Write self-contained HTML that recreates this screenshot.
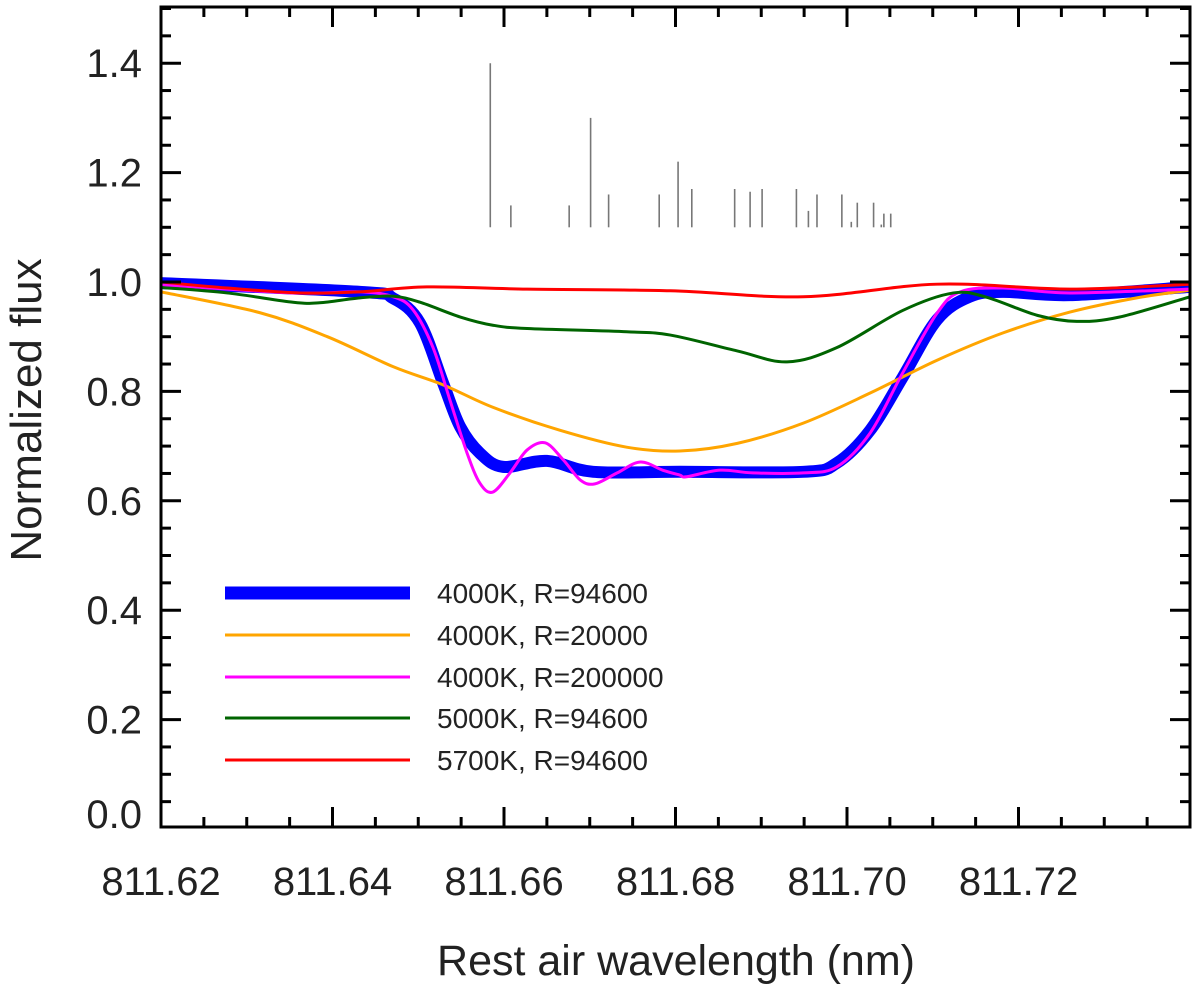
<!DOCTYPE html>
<html><head><meta charset="utf-8"><style>
body{margin:0;background:#fff}
svg{display:block;font-family:"Liberation Sans",sans-serif}
</style></head><body>
<svg id="c" width="1200" height="987" xmlns="http://www.w3.org/2000/svg">
<defs><clipPath id="clip"><rect x="161" y="7" width="1029" height="820"/></clipPath></defs>
</svg>
<script>
const xDomain=[811.62,811.74], yDomain=[0,1.5];
const xTicks=[811.62,811.64,811.66,811.68,811.70,811.72];
const xTickLabels=["811.62","811.64","811.66","811.68","811.70","811.72"];
const yTicks=[0,0.2,0.4,0.6,0.8,1.0,1.2,1.4];
const yTickLabels=["0.0","0.2","0.4","0.6","0.8","1.0","1.2","1.4"];
const lineListWave=[811.6584,811.6608,811.6676,811.6701,811.6722,811.6781,811.6803,811.6819,811.6869,811.6887,811.6901,811.6941,811.6955,811.6965,811.6994,811.7005,811.7012,811.7031,811.7040,811.7043,811.7051];
const lineListTop=[1.40,1.14,1.14,1.30,1.16,1.16,1.22,1.17,1.17,1.165,1.17,1.17,1.13,1.16,1.16,1.11,1.145,1.145,1.105,1.125,1.125];
const lineListBase=1.10;
const blueW=[811.620,811.6432,811.6471,811.6502,811.6529,811.6549,811.6572,811.6599,811.6650,811.6704,811.6805,811.6949,811.6988,811.7027,811.7065,811.7105,811.7143,811.7182,811.7260,811.7400];
const blueF=[0.998,0.982,0.970,0.925,0.815,0.735,0.687,0.662,0.673,0.653,0.653,0.653,0.669,0.729,0.826,0.931,0.973,0.982,0.976,0.991];
const magW=[811.620,811.6354,811.6432,811.6471,811.6494,811.6517,811.6537,811.6557,811.6572,811.6587,811.6607,811.6627,811.6648,811.6669,811.6689,811.6706,811.6732,811.6759,811.6785,811.6805,811.6813,811.6852,811.6890,811.6949,811.6988,811.7027,811.7065,811.7105,811.7132,811.7182,811.7260,811.7400];
const magF=[0.995,0.980,0.982,0.973,0.949,0.881,0.784,0.687,0.632,0.616,0.651,0.693,0.706,0.675,0.638,0.631,0.651,0.671,0.656,0.647,0.644,0.656,0.651,0.651,0.662,0.724,0.834,0.943,0.982,0.989,0.980,0.987];
const orW=[811.620,811.6315,811.6394,811.6471,811.6529,811.6587,811.6665,811.6743,811.6805,811.6872,811.6949,811.7027,811.7105,811.7182,811.7260,811.7338,811.7400];
const orF=[0.982,0.944,0.900,0.845,0.812,0.771,0.729,0.698,0.691,0.705,0.742,0.797,0.857,0.907,0.945,0.971,0.985];
const grW=[811.620,811.6277,811.6354,811.6385,811.6432,811.6471,811.6502,811.6549,811.6587,811.6627,811.6743,811.6794,811.6872,811.6930,811.6988,811.7065,811.7124,811.7163,811.7222,811.7268,811.7318,811.7400];
const grF=[0.990,0.980,0.963,0.962,0.971,0.974,0.963,0.936,0.921,0.915,0.909,0.903,0.874,0.854,0.880,0.948,0.980,0.972,0.939,0.928,0.936,0.973];
const redW=[811.620,811.6277,811.6362,811.6432,811.6510,811.6627,811.6794,811.6949,811.7105,811.7260,811.7400];
const redF=[1.000,0.989,0.980,0.982,0.991,0.987,0.984,0.973,0.996,0.987,0.996];
const legendLabels=["4000K, R=94600","4000K, R=20000","4000K, R=200000","5000K, R=94600","5700K, R=94600"];

const L=161,R=1190,T=7,B=827,Y0=829,YS=547;
const sx=w=>L+(w-xDomain[0])/(xDomain[1]-xDomain[0])*(R-L);
const sy=f=>Y0-f*YS;
const svg=document.getElementById('c');
const NS="http://www.w3.org/2000/svg";
function mk(tag,at,parent){const e=document.createElementNS(NS,tag);for(const k in at)e.setAttribute(k,at[k]);(parent||svg).appendChild(e);return e;}
function smooth(ws,fs){const p=ws.map((w,i)=>[sx(w),sy(fs[i])]);let d=`M${p[0][0]},${p[0][1]}`;
for(let i=0;i<p.length-1;i++){const p0=p[i-1]||p[i],p1=p[i],p2=p[i+1],p3=p[i+2]||p2;
d+=` C${p1[0]+(p2[0]-p0[0])/6},${p1[1]+(p2[1]-p0[1])/6} ${p2[0]-(p3[0]-p1[0])/6},${p2[1]-(p3[1]-p1[1])/6} ${p2[0]},${p2[1]}`;}return d;}

lineListWave.forEach((w,i)=>{
const l=mk('line',{x1:sx(w),x2:sx(w),y1:sy(lineListBase),y2:sy(lineListTop[i]),stroke:'#777','stroke-width':1.6});


});
const g=mk('g',{'clip-path':'url(#clip)'});
const series=[[blueW,blueF,'#0000ff',12,'series-4000k-r94600'],[orW,orF,'#ffa500',3,'series-4000k-r20000'],[magW,magF,'#ff00ff',3,'series-4000k-r200000'],[grW,grF,'#006400',3,'series-5000k-r94600'],[redW,redF,'#ff0000',3,'series-5700k-r94600']];
series.forEach(s=>{
const p=mk('path',{d:smooth(s[0],s[1]),fill:'none',stroke:s[2],'stroke-width':s[3],'stroke-linejoin':'round'},g);


});
const legY=[593,635,677,718,760];
series.forEach((s,i)=>{
const l=mk('line',{x1:225,x2:410,y1:legY[i],y2:legY[i],stroke:s[2],'stroke-width':s[3]===12?13:3});


const t=mk('text',{x:437,y:legY[i]+10,'font-size':28,fill:'#222'});t.textContent=legendLabels[i];


});
const fr=mk('rect',{x:L,y:T,width:R-L,height:B-T,fill:'none',stroke:'#000','stroke-width':3});


for(let k=0;k<=24;k++){const w=xDomain[0]+k*0.005;const x=sx(w);const major=k%4===0;const len=major?20:10;
mk('line',{x1:x,x2:x,y1:B,y2:B-len,stroke:'#000','stroke-width':3});
mk('line',{x1:x,x2:x,y1:T,y2:T+len,stroke:'#000','stroke-width':3});}
xTicks.forEach((w,i)=>{const t=mk('text',{x:sx(w),y:895,'font-size':40,'text-anchor':'middle',fill:'#222'});t.textContent=xTickLabels[i];

});
for(let k=0;k<=30;k++){const f=k*0.05;const y=sy(f);if(y<T||y>B)continue;const major=k%4===0;const len=major?20:10;
mk('line',{x1:L,x2:L+len,y1:y,y2:y,stroke:'#000','stroke-width':3});
mk('line',{x1:R,x2:R-len,y1:y,y2:y,stroke:'#000','stroke-width':3});}
yTicks.forEach((f,i)=>{const y=Math.min(sy(f),814);const t=mk('text',{x:142,y:y+14,'font-size':40,'text-anchor':'end',fill:'#222'});t.textContent=yTickLabels[i];

});
const xt=mk('text',{x:676,y:975,'font-size':43,'text-anchor':'middle',fill:'#222'});xt.textContent='Rest air wavelength (nm)';


const yt=mk('text',{x:0,y:0,'font-size':44,'text-anchor':'middle',fill:'#222',transform:'translate(41,410) rotate(-90)'});yt.textContent='Normalized flux';


</script>
</body></html>
